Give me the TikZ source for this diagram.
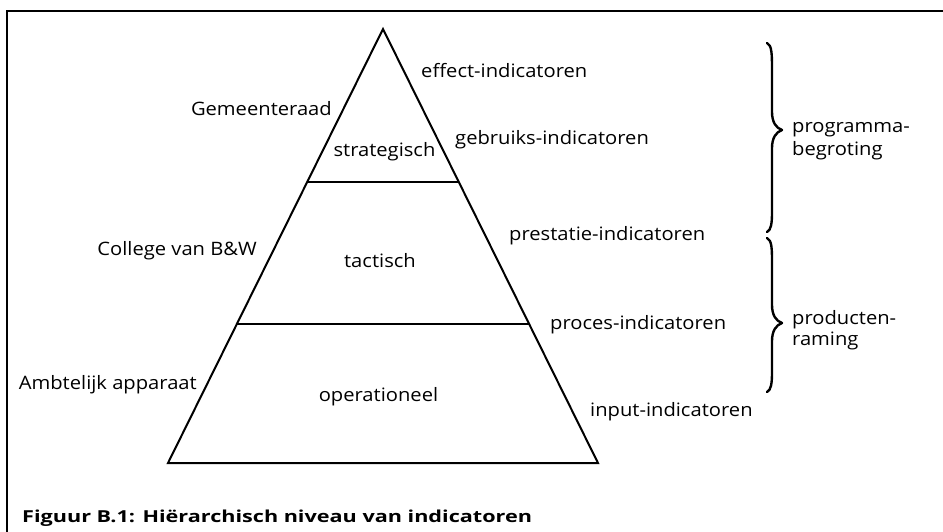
\documentclass[tikz,border=0pt]{standalone}
\usepackage{fontspec}
\setmainfont{Open Sans}[FakeStretch=1.09]
\newfontfamily\capfont{Open Sans}[FakeStretch=1.31]
\begin{document}
\begin{tikzpicture}[x=1pt,y=-1pt,
  lbl/.style={inner sep=0pt,font=\fontsize{18.5}{22}\selectfont},
  edge/.style={line width=2pt},
  divider/.style={line width=1.4pt},
  brace/.style={line width=2.4pt,line cap=round,line join=round}]
\useasboundingbox (0,0) rectangle (943,531);
% frame
\draw[line width=2pt] (7,540) -- (7,11) -- (950,11);
% pyramid
\coordinate (apex) at (383,29);
\coordinate (bl) at (168,463);
\coordinate (br) at (598,463);
\draw[edge,line join=miter] (apex) -- (bl) -- (br) -- cycle;
\coordinate (d1l) at (307,182);
\coordinate (d1r) at (459,182);
\coordinate (d2l) at (237,324);
\coordinate (d2r) at (529,324);
\draw[divider] (d1l) -- (d1r);
\draw[divider] (d2l) -- (d2r);
% level labels
\node[lbl] (strat) at (384.5,152) {strategisch};
\node[lbl] (tact) at (380,261) {tactisch};
\node[lbl] (oper) at (378.5,397) {operationeel};
% actors
\node[lbl,anchor=mid east] (gr) at (332,113) {Gemeenteraad};
\node[lbl,anchor=mid east] (cbw) at (257,253) {College van B\&W};
\node[lbl,anchor=mid east] (amb) at (197,387) {Ambtelijk apparaat};
% indicators
\node[lbl,anchor=mid west] (eff) at (421,75) {effect-indicatoren};
\node[lbl,anchor=mid west] (geb) at (455,142) {gebruiks-indicatoren};
\node[lbl,anchor=mid west] (pres) at (509,238) {prestatie-indicatoren};
\node[lbl,anchor=mid west] (proc) at (550,327) {proces-indicatoren};
\node[lbl,anchor=mid west] (inp) at (590,414) {input-indicatoren};
% braces
\draw[brace] (767,43) .. controls (772,45) and (772,55) .. (772,70) -- (772,112)
  .. controls (772,122) and (776,128) .. (782,130)
  .. controls (776,132) and (772,138) .. (772,148) -- (772,212)
  .. controls (772,224) and (771,230) .. (767,232);
\draw[brace] (767,238) .. controls (772,240) and (772,250) .. (772,262) -- (772,305)
  .. controls (772,315) and (776,321) .. (782,323)
  .. controls (776,325) and (772,331) .. (772,341) -- (772,372)
  .. controls (772,384) and (771,390) .. (767,392);
\node[lbl,anchor=mid west] (pb1) at (792,130) {programma-};
\node[lbl,anchor=mid west] (pb2) at (792,153) {begroting};
\node[lbl,anchor=mid west] (pr1) at (792,322) {producten-};
\node[lbl,anchor=mid west] (pr2) at (792,343) {raming};
% caption
\node[inner sep=0pt,anchor=mid west,font=\capfont\fontsize{16.5}{20}\selectfont\bfseries] (cap) at (22,520) {Figuur B.1: Hiërarchisch niveau van indicatoren};
\end{tikzpicture}
\end{document}
